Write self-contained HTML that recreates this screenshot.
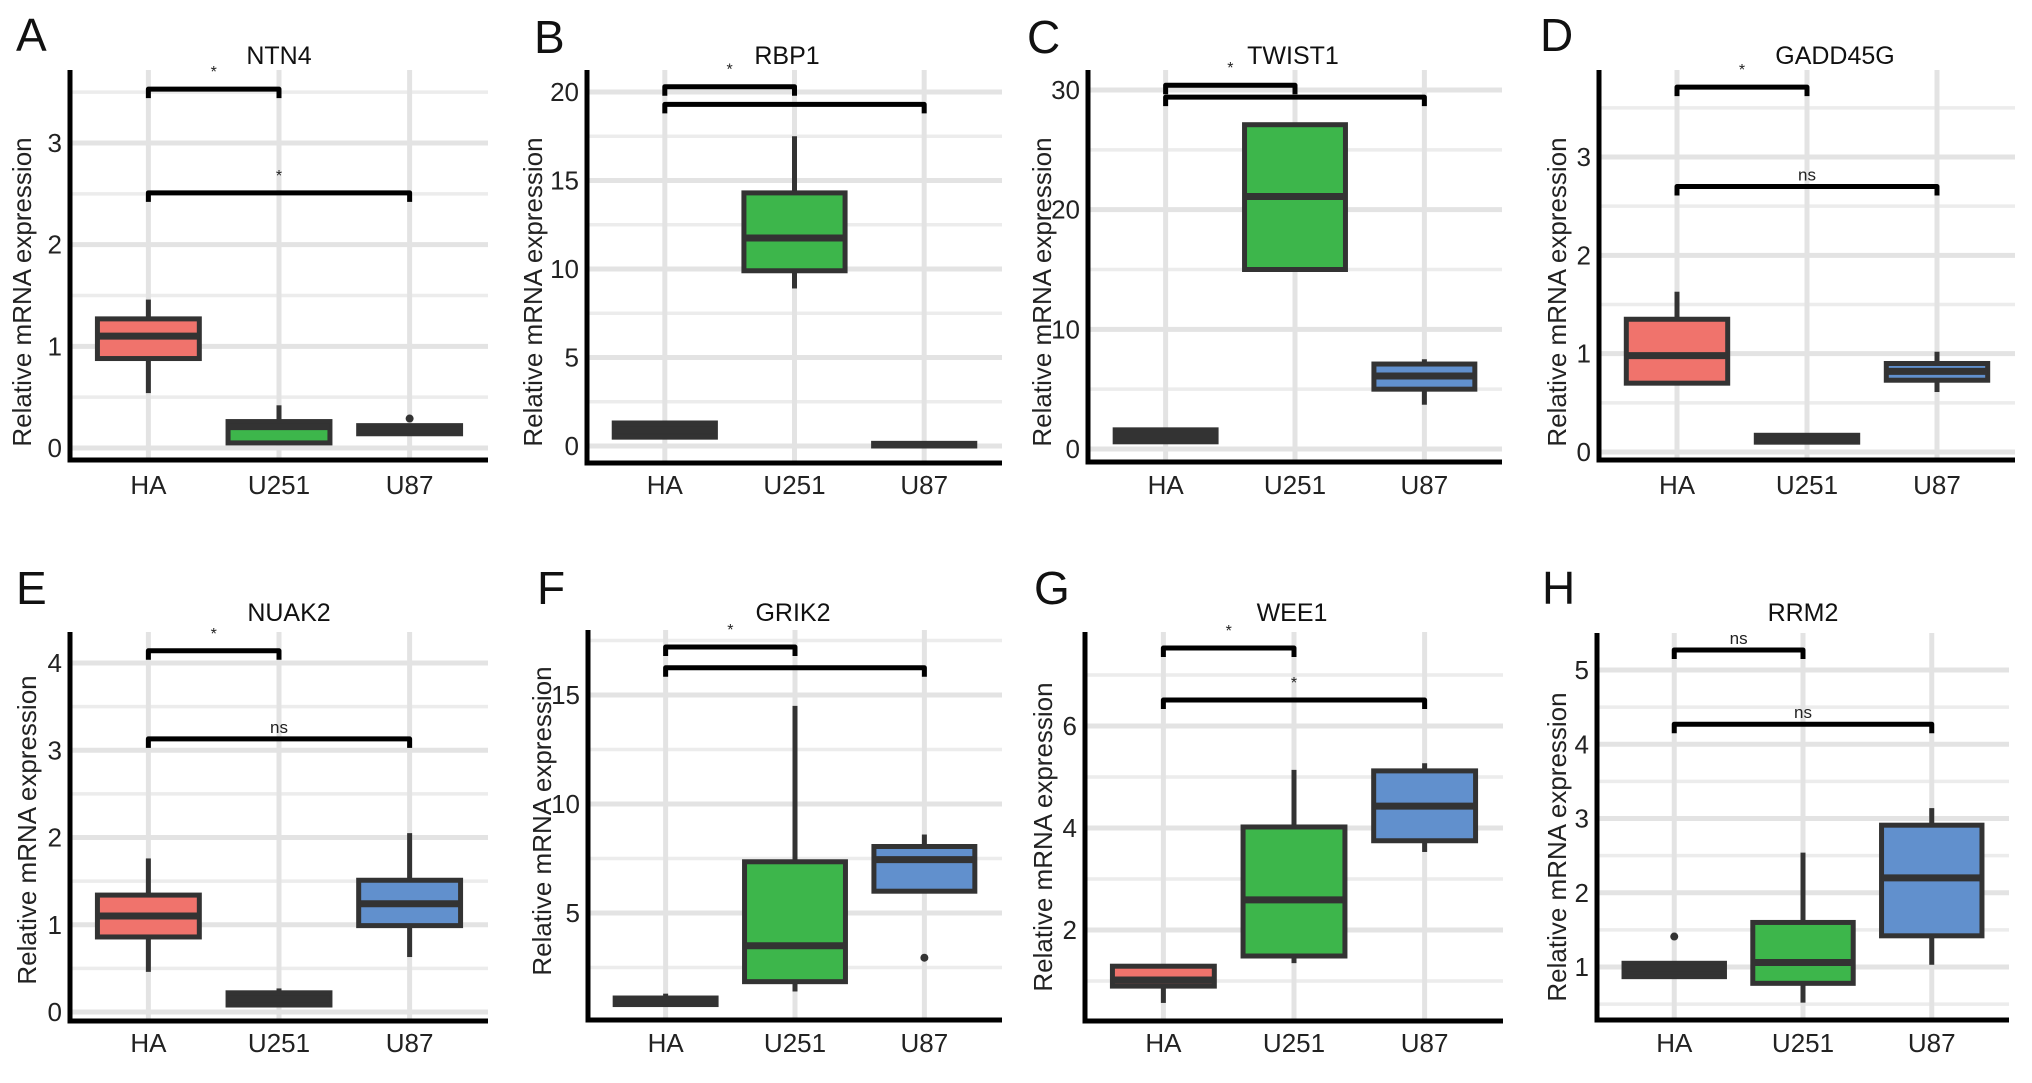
<!DOCTYPE html>
<html><head><meta charset="utf-8"><style>
html,body{margin:0;padding:0;background:#fff;}
svg{display:block;font-family:"Liberation Sans",Arial,sans-serif;}
</style></head><body>
<svg id="fig" width="2032" height="1083" viewBox="0 0 2032 1083" xmlns="http://www.w3.org/2000/svg"></svg>
<script>
const categories = ['HA','U251','U87'];
const fills = ['#F0736C','#3DB64B','#6190CD'];

const A_ticks=[0,1,2,3];
const A_lower=[0.54,0.05,0.14], A_q1=[0.88,0.05,0.14], A_median=[1.10,0.21,0.18], A_q3=[1.27,0.26,0.22], A_upper=[1.46,0.42,0.22];
const A_outliers=[[],[],[0.29]];
const A_bracketY=[3.53,2.51], A_bracketLabels=['*','*'];

const B_ticks=[0,5,10,15,20];
const B_lower=[0.5,8.9,0.0], B_q1=[0.5,9.9,0.0], B_median=[0.9,11.75,0.07], B_q3=[1.3,14.3,0.15], B_upper=[1.3,17.5,0.15];
const B_outliers=[[],[],[]];
const B_bracketY=[20.3,19.3], B_bracketLabels=['*',''];

const C_ticks=[0,10,20,30];
const C_lower=[0.5,14.8,3.7], C_q1=[0.6,15.0,5.0], C_median=[1.0,21.1,6.1], C_q3=[1.6,27.1,7.1], C_upper=[1.6,27.1,7.5];
const C_outliers=[[],[],[]];
const C_bracketY=[30.4,29.4], C_bracketLabels=['*',''];

const D_ticks=[0,1,2,3];
const D_lower=[0.68,0.10,0.61], D_q1=[0.70,0.10,0.73], D_median=[0.98,0.13,0.82], D_q3=[1.35,0.17,0.90], D_upper=[1.63,0.17,1.02];
const D_outliers=[[],[],[]];
const D_bracketY=[3.71,2.70], D_bracketLabels=['*','ns'];

const E_ticks=[0,1,2,3,4];
const E_lower=[0.46,0.08,0.63], E_q1=[0.86,0.08,0.99], E_median=[1.10,0.15,1.24], E_q3=[1.34,0.22,1.51], E_upper=[1.76,0.27,2.05];
const E_outliers=[[],[],[]];
const E_bracketY=[4.14,3.13], E_bracketLabels=['*','ns'];

const F_ticks=[5,10,15];
const F_lower=[0.8,1.4,6.0], F_q1=[0.8,1.85,6.0], F_median=[0.95,3.5,7.45], F_q3=[1.1,7.35,8.05], F_upper=[1.3,14.5,8.6];
const F_outliers=[[],[],[2.95]];
const F_bracketY=[17.2,16.25], F_bracketLabels=['*',''];

const G_ticks=[2,4,6];
const G_lower=[0.57,1.35,3.53], G_q1=[0.9,1.49,3.75], G_median=[1.02,2.59,4.43], G_q3=[1.29,4.02,5.12], G_upper=[1.29,5.14,5.27];
const G_outliers=[[],[],[]];
const G_bracketY=[7.53,6.51], G_bracketLabels=['*','*'];

const H_ticks=[1,2,3,4,5];
const H_lower=[0.87,0.52,1.03], H_q1=[0.87,0.78,1.42], H_median=[0.99,1.06,2.2], H_q3=[1.05,1.6,2.91], H_upper=[1.05,2.54,3.14];
const H_outliers=[[1.41],[],[]];
const H_bracketY=[5.27,4.27], H_bracketLabels=['ns','ns'];

const bracketPairs=[[0,1],[0,2]];

const panels=[
 {id:'A',gene:'NTN4',ax:70,right:488,top:70,bottom:460,v0:0,y0:448,v1:3,y1:143,tx:279,ty:64,lx:16,ly:51,ylx:22,yly:292,xly:494,
  ticks:A_ticks,lo:A_lower,q1:A_q1,md:A_median,q3:A_q3,hi:A_upper,out:A_outliers,by:A_bracketY,bl:A_bracketLabels},
 {id:'B',gene:'RBP1',ax:587,right:1002,top:70,bottom:463,v0:0,y0:446,v1:20,y1:92,tx:787,ty:64,lx:534,ly:53,ylx:533,yly:292,xly:494,
  ticks:B_ticks,lo:B_lower,q1:B_q1,md:B_median,q3:B_q3,hi:B_upper,out:B_outliers,by:B_bracketY,bl:B_bracketLabels},
 {id:'C',gene:'TWIST1',ax:1088,right:1502,top:70,bottom:462,v0:0,y0:449,v1:30,y1:90,tx:1293,ty:64,lx:1027,ly:53,ylx:1042,yly:292,xly:494,
  ticks:C_ticks,lo:C_lower,q1:C_q1,md:C_median,q3:C_q3,hi:C_upper,out:C_outliers,by:C_bracketY,bl:C_bracketLabels},
 {id:'D',gene:'GADD45G',ax:1599,right:2015,top:70,bottom:460,v0:0,y0:452,v1:3,y1:157,tx:1835,ty:64,lx:1540,ly:51,ylx:1557,yly:292,xly:494,
  ticks:D_ticks,lo:D_lower,q1:D_q1,md:D_median,q3:D_q3,hi:D_upper,out:D_outliers,by:D_bracketY,bl:D_bracketLabels},
 {id:'E',gene:'NUAK2',ax:70,right:488,top:632,bottom:1021,v0:0,y0:1012,v1:4,y1:663,tx:289,ty:621,lx:16,ly:604,ylx:27,yly:830,xly:1052,
  ticks:E_ticks,lo:E_lower,q1:E_q1,md:E_median,q3:E_q3,hi:E_upper,out:E_outliers,by:E_bracketY,bl:E_bracketLabels},
 {id:'F',gene:'GRIK2',ax:588,right:1002,top:630,bottom:1020,v0:5,y0:913,v1:15,y1:695,tx:793,ty:621,lx:537,ly:604,ylx:542,yly:821,xly:1052,
  ticks:F_ticks,lo:F_lower,q1:F_q1,md:F_median,q3:F_q3,hi:F_upper,out:F_outliers,by:F_bracketY,bl:F_bracketLabels},
 {id:'G',gene:'WEE1',ax:1085,right:1503,top:632,bottom:1021,v0:2,y0:930,v1:6,y1:726,tx:1292,ty:621,lx:1034,ly:604,ylx:1043,yly:837,xly:1052,
  ticks:G_ticks,lo:G_lower,q1:G_q1,md:G_median,q3:G_q3,hi:G_upper,out:G_outliers,by:G_bracketY,bl:G_bracketLabels},
 {id:'H',gene:'RRM2',ax:1597,right:2009,top:633,bottom:1020,v0:1,y0:967,v1:5,y1:670,tx:1803,ty:621,lx:1542,ly:604,ylx:1557,yly:847,xly:1052,
  ticks:H_ticks,lo:H_lower,q1:H_q1,md:H_median,q3:H_q3,hi:H_upper,out:H_outliers,by:H_bracketY,bl:H_bracketLabels}
];

const NS='http://www.w3.org/2000/svg';
const svg=document.getElementById('fig');
function mk(tag,attrs,parent){const e=document.createElementNS(NS,tag);for(const k in attrs)e.setAttribute(k,attrs[k]);parent.appendChild(e);return e;}

panels.forEach(p=>{
  const g=mk('g',{},svg);
  
  
  const ppu=(p.y0-p.y1)/(p.v1-p.v0);
  const yS=v=>p.y0-(v-p.v0)*ppu;
  const unit=(p.right-p.ax)/3.2;
  const xS=i=>p.ax+(0.6+i)*unit;
  const bw=unit*0.78;
  const step=p.ticks[1]-p.ticks[0];
  const gg=mk('g',{},g);
  
  
  for(let v=p.ticks[0]-step*2;v<=p.ticks[p.ticks.length-1]+step*2+1e-9;v+=step/2){
    const y=yS(v); if(y<p.top+2||y>p.bottom-2) continue;
    const major=Math.abs((v-p.ticks[0])/step-Math.round((v-p.ticks[0])/step))<1e-6;
    mk('line',{x1:p.ax,x2:p.right,y1:y,y2:y,stroke:major?'#e3e3e3':'#ececec','stroke-width':major?5:3.5},gg);
  }
  categories.forEach((c,i)=>{mk('line',{x1:xS(i),x2:xS(i),y1:p.top,y2:p.bottom,stroke:'#e3e3e3','stroke-width':5},gg);});
  categories.forEach((c,i)=>{
    const bg=mk('g',{},g);
    
    
    const x=xS(i);
    mk('line',{x1:x,x2:x,y1:yS(p.hi[i]),y2:yS(p.q3[i]),stroke:'#333','stroke-width':5},bg);
    mk('line',{x1:x,x2:x,y1:yS(p.q1[i]),y2:yS(p.lo[i]),stroke:'#333','stroke-width':5},bg);
    const yt=yS(p.q3[i]), yb=yS(p.q1[i]);
    const thin=(yb-yt)<16;
    mk('rect',{x:x-bw/2,y:yt,width:bw,height:Math.max(yb-yt,1),fill:thin?'#333':fills[i],stroke:'#333','stroke-width':5},bg);
    mk('line',{x1:x-bw/2,x2:x+bw/2,y1:yS(p.md[i]),y2:yS(p.md[i]),stroke:'#333','stroke-width':7},bg);
    p.out[i].forEach(o=>{
      const d=mk('circle',{cx:x,cy:yS(o),r:4,fill:'#333'},bg);
      
      
    });
  });
  const ya=mk('line',{x1:p.ax,x2:p.ax,y1:p.top,y2:p.bottom+2.5,stroke:'#000','stroke-width':5},g);
  
  
  const xa=mk('line',{x1:p.ax-2.5,x2:p.right,y1:p.bottom,y2:p.bottom,stroke:'#000','stroke-width':5},g);
  
  
  p.ticks.forEach(t=>{
    const tl=mk('text',{x:p.ax-8,y:yS(t)+9,'text-anchor':'end','font-size':26,fill:'#222'},g);
    tl.textContent=String(t);
    
    
  });
  categories.forEach((c,i)=>{
    const t=mk('text',{x:xS(i),y:p.xly,'text-anchor':'middle','font-size':26,fill:'#222'},g);
    t.textContent=c;
    
    
  });
  bracketPairs.forEach((pr,k)=>{
    const bg=mk('g',{},g);
    
    
    const y=yS(p.by[k]), x1=xS(pr[0]), x2=xS(pr[1]);
    mk('path',{d:`M${x1},${y+9}V${y}H${x2}V${y+9}`,fill:'none',stroke:'#000','stroke-width':5,'stroke-linejoin':'round'},bg);
    if(p.bl[k]){
      const t=mk('text',{x:(x1+x2)/2,y:p.bl[k]==='ns'?y-6:y-12,'text-anchor':'middle','font-size':p.bl[k]==='ns'?17:16,fill:'#222'},bg);
      t.textContent=p.bl[k];
      
      
    }
  });
  const tt=mk('text',{x:p.tx,y:p.ty,'text-anchor':'middle','font-size':25,fill:'#111'},g);
  tt.textContent=p.gene;
  
  
  const lt=mk('text',{x:p.lx,y:p.ly,'font-size':46,fill:'#111'},g);
  lt.textContent=p.id;
  
  
  const yl=mk('text',{x:p.ylx,y:p.yly,'text-anchor':'middle','font-size':26,fill:'#222',transform:`rotate(-90 ${p.ylx} ${p.yly})`,'dominant-baseline':'central'},g);
  yl.textContent='Relative mRNA expression';
  
  
});
</script>
</body></html>
